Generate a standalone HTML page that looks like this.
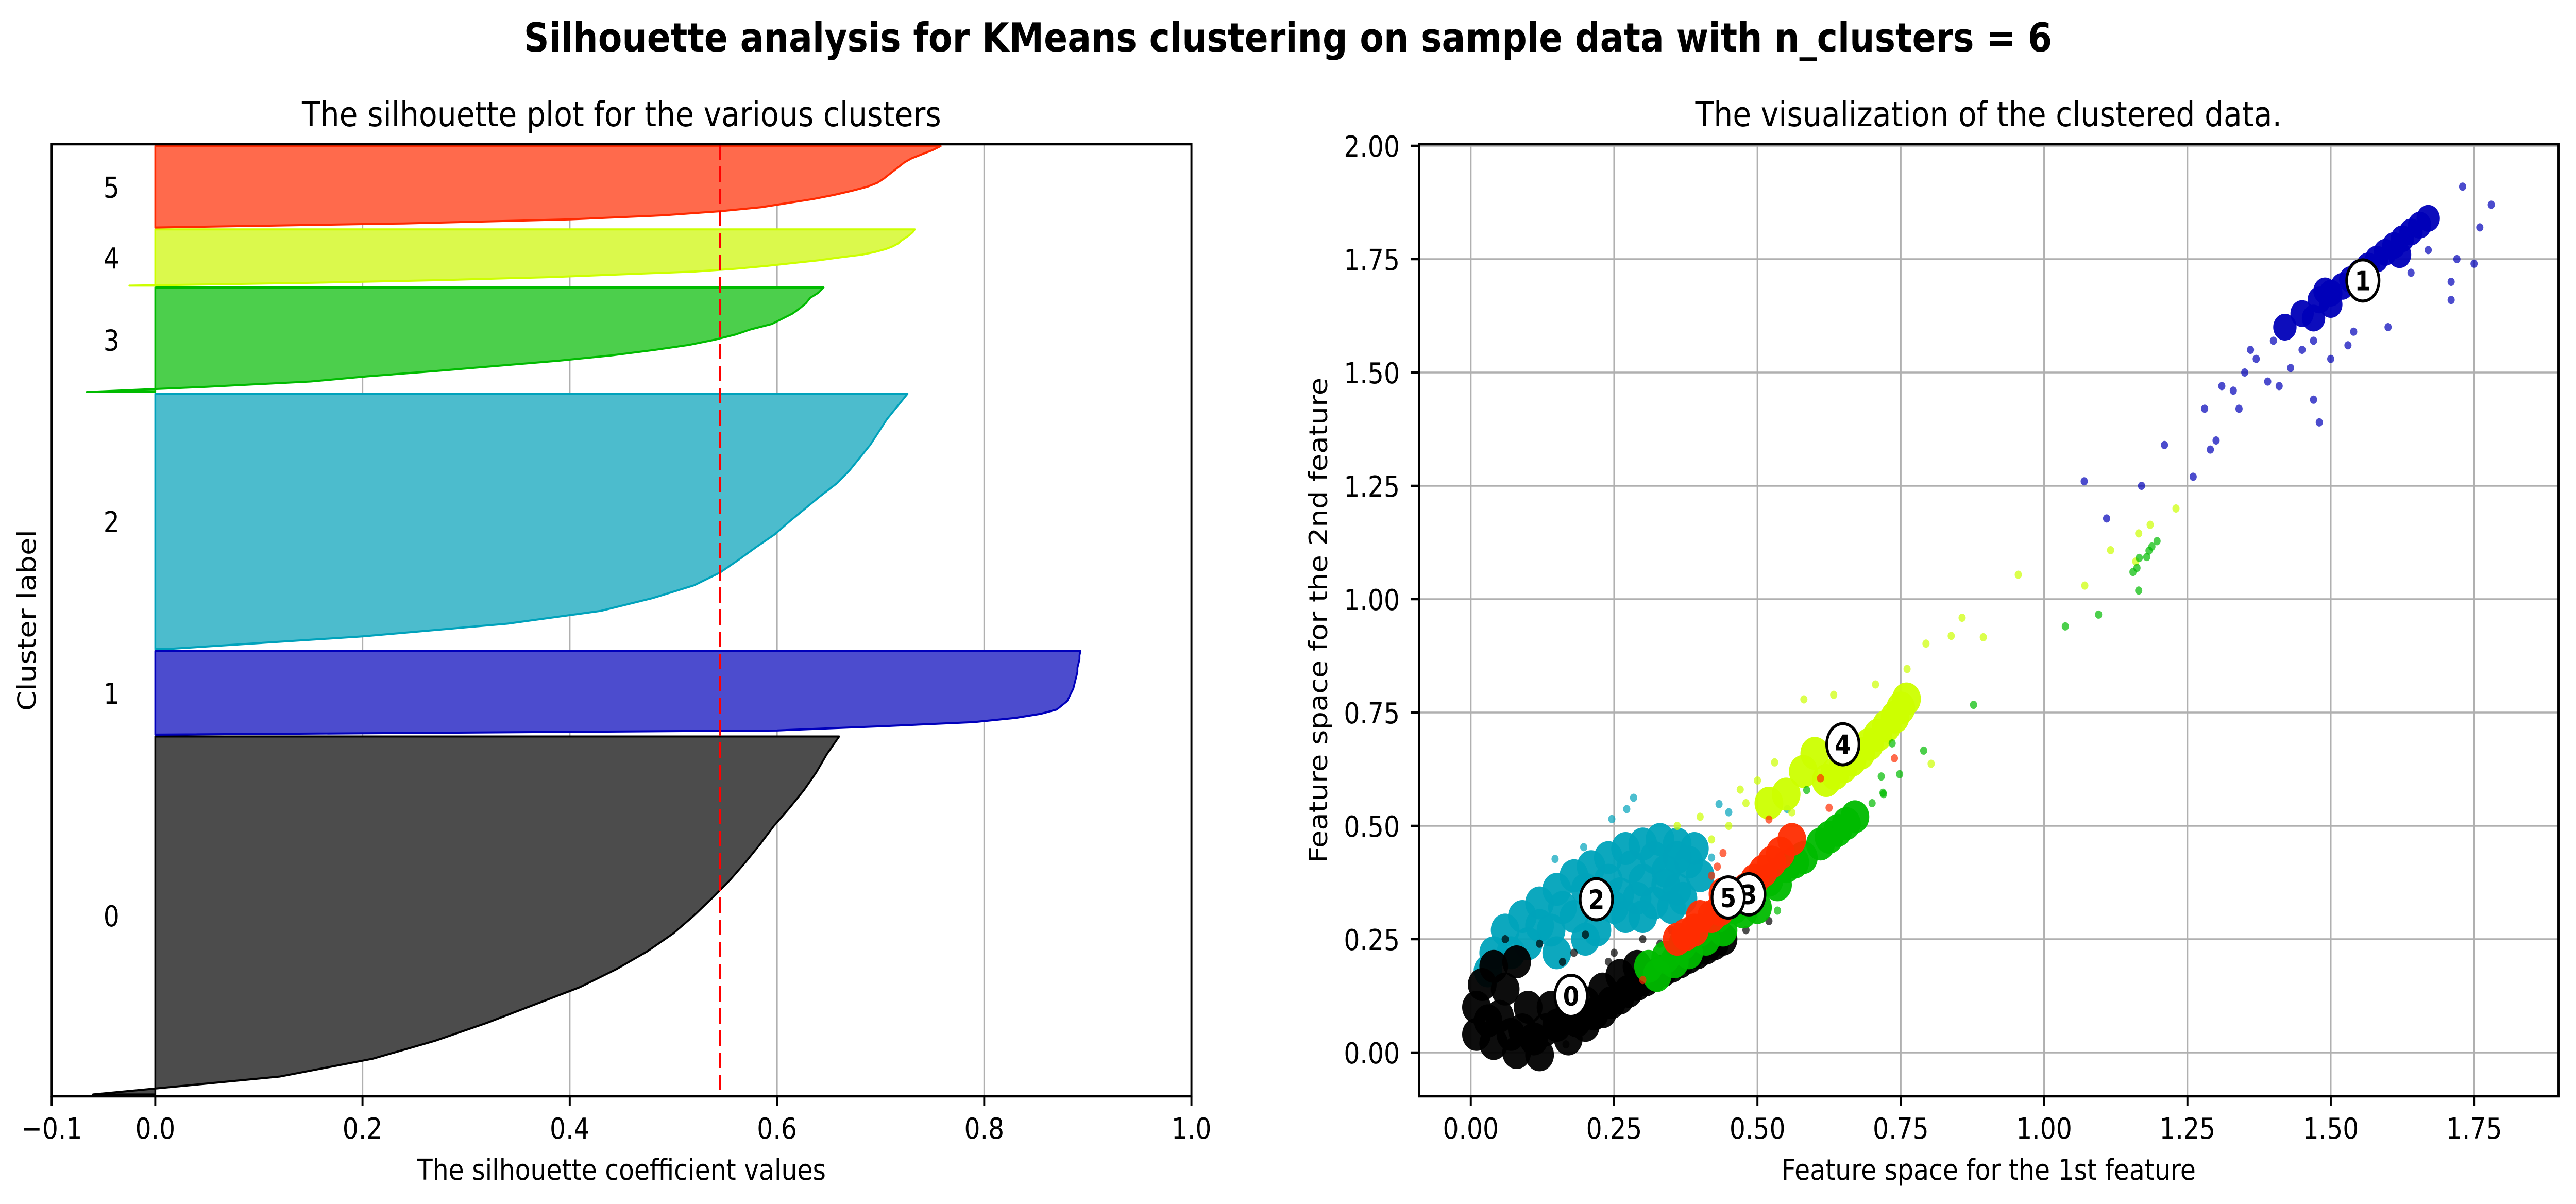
<!DOCTYPE html>
<html><head><meta charset="utf-8"><style>
html,body{margin:0;padding:0;background:#fff;width:100%;height:100%;overflow:hidden;}
svg{display:block;width:100vw;height:100vh;font-family:"DejaVu Sans","Liberation Sans",sans-serif;}
</style></head><body>
<svg id="fig" xmlns="http://www.w3.org/2000/svg" viewBox="0 0 5736 2337" preserveAspectRatio="none">
<rect x="0" y="0" width="5736" height="2337" fill="#fff"/>
<text x="2868" y="100" text-anchor="middle" font-size="78" font-weight="bold">Silhouette analysis for KMeans clustering on sample data with n_clusters = 6</text>
<text x="1384" y="245" text-anchor="middle" font-size="67">The silhouette plot for the various clusters</text>
<text x="4428" y="245" text-anchor="middle" font-size="67">The visualization of the clustered data.</text>
<text x="1384" y="2290" text-anchor="middle" font-size="56">The silhouette coefficient values</text>
<text x="4428" y="2290" text-anchor="middle" font-size="56">Feature space for the 1st feature</text>
<text x="80" y="1204" text-anchor="middle" font-size="56" transform="rotate(-90 80 1204)">Cluster label</text>
<text x="2955" y="1204" text-anchor="middle" font-size="56" transform="rotate(-90 2955 1204)">Feature space for the 2nd feature</text>
<g id="left"></g>
<g id="right"></g>
</svg>
<script>
// ---------- Silhouette data ----------
const clusterIds = [0,1,2,3,4,5];
const clusterSizes = [1935,452,1380,565,304,440];
const sil0 = [-0.06,0.12,0.21,0.27,0.32,0.365,0.41,0.445,0.475,0.5,0.52,0.538,0.555,0.57,0.584,0.597,0.612,0.626,0.638,0.648,0.66];
const sil1 = [0.0,0.6,0.7,0.79,0.83,0.855,0.87,0.875,0.88,0.882,0.884,0.886,0.887,0.888,0.889,0.89,0.89,0.891,0.892,0.892,0.893];
const sil2 = [0.01,0.2,0.34,0.43,0.48,0.52,0.545,0.563,0.58,0.598,0.612,0.627,0.642,0.658,0.67,0.68,0.69,0.698,0.706,0.716,0.726];
const sil3 = [-0.066,0.05,0.15,0.205,0.27,0.33,0.39,0.44,0.48,0.515,0.54,0.56,0.575,0.595,0.605,0.615,0.622,0.628,0.632,0.64,0.645];
const sil4 = [-0.025,0.15,0.28,0.38,0.45,0.52,0.56,0.59,0.615,0.64,0.66,0.682,0.695,0.705,0.712,0.717,0.72,0.724,0.728,0.731,0.733];
const sil5 = [0.0,0.24,0.4,0.49,0.545,0.585,0.61,0.635,0.655,0.672,0.687,0.697,0.703,0.708,0.713,0.718,0.723,0.73,0.74,0.75,0.758];
const silAverage = 0.545;
const leftXTicks = [-0.1,0.0,0.2,0.4,0.6,0.8,1.0];
const leftXTickLabels = ["\u22120.1","0.0","0.2","0.4","0.6","0.8","1.0"];
const leftGridTicks = [0.0,0.2,0.4,0.6,0.8];

// ---------- Scatter data ----------
const rightXTicks = [0,0.25,0.5,0.75,1.0,1.25,1.5,1.75];
const rightXTickLabels = ["0.00","0.25","0.50","0.75","1.00","1.25","1.50","1.75"];
const rightYTicks = [0,0.25,0.5,0.75,1.0,1.25,1.5,1.75,2.0];
const rightYTickLabels = ["0.00","0.25","0.50","0.75","1.00","1.25","1.50","1.75","2.00"];
const cluster0Core = [[0.01,0.04],[0.01,0.10],[0.02,0.15],[0.04,0.02],[0.05,0.08],[0.06,0.14],[0.08,0.0],[0.09,0.05],[0.10,0.10],[0.12,-0.005],[0.13,0.05],[0.14,0.10],[0.17,0.03],[0.17,0.08],[0.20,0.06],[0.20,0.11],[0.23,0.09],[0.23,0.14],[0.26,0.12],[0.26,0.17],[0.29,0.15],[0.29,0.19],[0.32,0.17],[0.35,0.19],[0.38,0.21],[0.41,0.23],[0.44,0.25],[0.04,0.19],[0.08,0.2],[0.03,0.07],[0.07,0.04],[0.11,0.03],[0.15,0.06],[0.185,0.07],[0.215,0.085],[0.245,0.11],[0.275,0.135],[0.305,0.16],[0.335,0.18],[0.365,0.2],[0.395,0.22],[0.425,0.24]];
const cluster0Sparse = [[0.166,0.018],[0.52,0.29],[0.48,0.27],[0.16,0.2],[0.12,0.24],[0.2,0.26],[0.3,0.25],[0.35,0.27],[0.42,0.31],[0.06,0.25],[0.25,0.22],[0.18,0.22],[0.24,0.2],[0.33,0.24]];
const cluster1Core = [[1.45,1.63],[1.48,1.66],[1.52,1.69],[1.55,1.72],[1.58,1.75],[1.61,1.78],[1.64,1.81],[1.67,1.84],[1.42,1.60],[1.50,1.675],[1.535,1.705],[1.565,1.735],[1.595,1.765],[1.625,1.795],[1.655,1.825],[1.47,1.62],[1.50,1.65],[1.56,1.70],[1.62,1.76],[1.49,1.68]];
const cluster1Sparse = [[1.40,1.57],[1.37,1.53],[1.35,1.50],[1.31,1.47],[1.33,1.46],[1.39,1.48],[1.41,1.47],[1.43,1.51],[1.26,1.27],[1.30,1.35],[1.21,1.34],[1.29,1.33],[1.17,1.25],[1.07,1.26],[1.109,1.178],[1.48,1.39],[1.73,1.91],[1.78,1.87],[1.76,1.82],[1.72,1.75],[1.75,1.74],[1.71,1.70],[1.71,1.66],[1.60,1.60],[1.54,1.59],[1.47,1.44],[1.47,1.57],[1.53,1.56],[1.50,1.53],[1.28,1.42],[1.45,1.55],[1.64,1.72],[1.67,1.77],[1.36,1.55],[1.34,1.42]];
const cluster2Core = [[0.04,0.22],[0.03,0.18],[0.06,0.27],[0.09,0.30],[0.12,0.33],[0.15,0.36],[0.18,0.39],[0.21,0.41],[0.24,0.43],[0.27,0.45],[0.30,0.46],[0.33,0.47],[0.36,0.46],[0.39,0.45],[0.10,0.24],[0.14,0.27],[0.18,0.30],[0.22,0.33],[0.26,0.35],[0.30,0.38],[0.34,0.40],[0.38,0.42],[0.22,0.27],[0.27,0.30],[0.32,0.33],[0.36,0.36],[0.40,0.39],[0.07,0.22],[0.12,0.28],[0.16,0.32],[0.20,0.36],[0.24,0.38],[0.28,0.41],[0.32,0.43],[0.36,0.43],[0.25,0.32],[0.29,0.34],[0.34,0.37],[0.15,0.22],[0.20,0.25],[0.30,0.30],[0.35,0.32],[0.37,0.34]];
const cluster2Sparse = [[0.284,0.562],[0.272,0.537],[0.246,0.515],[0.197,0.453],[0.147,0.427],[0.433,0.548],[0.552,0.537],[0.45,0.53],[0.42,0.43]];
const cluster3Core = [[0.31,0.19],[0.34,0.21],[0.37,0.24],[0.40,0.27],[0.43,0.30],[0.46,0.32],[0.49,0.35],[0.52,0.38],[0.55,0.41],[0.58,0.43],[0.61,0.46],[0.64,0.49],[0.67,0.52],[0.38,0.22],[0.44,0.27],[0.50,0.32],[0.325,0.17],[0.355,0.2],[0.41,0.25],[0.475,0.31],[0.535,0.37],[0.565,0.42],[0.625,0.475],[0.655,0.505]];
const cluster3Sparse = [[0.70,0.55],[0.72,0.57],[0.877,0.767],[0.79,0.666],[0.735,0.682],[0.748,0.614],[0.716,0.609],[0.719,0.573],[0.586,0.579],[0.535,0.313],[1.037,0.94],[1.095,0.966],[1.165,1.019],[1.155,1.06],[1.162,1.069],[1.166,1.091],[1.179,1.093],[1.183,1.107],[1.188,1.116],[1.197,1.128]];
const cluster4Core = [[0.62,0.60],[0.65,0.63],[0.68,0.66],[0.71,0.70],[0.74,0.74],[0.76,0.78],[0.58,0.62],[0.55,0.57],[0.60,0.66],[0.52,0.55],[0.635,0.615],[0.665,0.645],[0.695,0.68],[0.725,0.72],[0.75,0.76]];
const cluster4Sparse = [[0.857,0.959],[0.838,0.919],[0.894,0.916],[0.794,0.902],[0.803,0.637],[0.761,0.846],[0.706,0.812],[0.581,0.779],[0.633,0.789],[0.955,1.054],[1.071,1.03],[1.116,1.108],[1.165,1.145],[1.185,1.164],[1.23,1.20],[1.16,1.083],[0.50,0.60],[0.45,0.50],[0.42,0.47],[0.48,0.55],[0.40,0.52],[0.36,0.50],[0.56,0.53],[0.53,0.64],[0.47,0.58]];
const cluster5Core = [[0.36,0.25],[0.39,0.27],[0.42,0.30],[0.45,0.33],[0.48,0.36],[0.51,0.40],[0.54,0.44],[0.56,0.47],[0.40,0.30],[0.44,0.35],[0.375,0.26],[0.435,0.315],[0.495,0.38],[0.525,0.42]];
const cluster5Sparse = [[0.739,0.649],[0.61,0.605],[0.625,0.54],[0.52,0.514],[0.44,0.44],[0.43,0.41],[0.42,0.39],[0.3,0.16]];
const centroidX = [0.175,1.556,0.219,0.485,0.649,0.449];
const centroidY = [0.125,1.703,0.338,0.349,0.68,0.342];

// ---------- styles ----------
const silFill = ["#4c4c4c","#4c4cce","#4cbccd","#4ccf4c","#dbf94c","#ff6a4c"];
const silEdge = ["#000000","#0000bb","#00a2bb","#00bb00","#ccff00","#ff2a00"];
const dotColor = ["#000000","#0000b8","#00a3bb","#00bb00","#ccff00","#ff2c00"];

const NS = "http://www.w3.org/2000/svg";
function mk(tag, attrs, parent){ const e=document.createElementNS(NS,tag); for(const k in attrs) e.setAttribute(k,attrs[k]); parent.appendChild(e); return e; }

// ---------- Left axes ----------
const L = {x0:115, x1:2653, y0:280, y1:2128};
const yTop = clusterSizes.reduce((a,b)=>a+b,0) + 70;
function lx(v){ return L.x0 + (v+0.1)/1.1*(L.x1-L.x0); }
function ly(u){ return L.y1 - u/yTop*(L.y1-L.y0); }
const left = document.getElementById('left');
for (const t of leftGridTicks){
  const g = mk('line',{x1:lx(t),x2:lx(t),y1:L.y0,y2:L.y1,stroke:'#b0b0b0','stroke-width':3.5},left);
  
  
}
const sils = [sil0,sil1,sil2,sil3,sil4,sil5];
let yLower = 10;
clusterIds.forEach((ci,i)=>{
  const vals = sils[i]; const n = vals.length; const size = clusterSizes[i];
  let pts = [];
  vals.forEach((v,k)=>{ pts.push(lx(v)+','+ly(yLower + size*k/(n-1))); });
  pts.push(lx(0)+','+ly(yLower+size));
  pts.push(lx(0)+','+ly(yLower));
  const p = mk('polygon',{points:pts.join(' '),fill:silFill[i],stroke:silEdge[i],'stroke-width':4,'stroke-linejoin':'round'},left);
  
  
  const t = mk('text',{x:lx(-0.05),y:ly(yLower+size*0.5)+21,'font-size':56},left);
  t.textContent = String(ci);
  
  
  yLower += size + 10;
});
const avg = mk('line',{x1:lx(silAverage),x2:lx(silAverage),y1:L.y0,y2:L.y1,stroke:'#ff0000','stroke-width':5,'stroke-dasharray':'30,13'},left);


const lframe = mk('rect',{x:L.x0,y:L.y0,width:L.x1-L.x0,height:L.y1-L.y0,fill:'none',stroke:'#000','stroke-width':4.5},left);


leftXTicks.forEach((t,i)=>{
  const tk = mk('line',{x1:lx(t),x2:lx(t),y1:L.y1,y2:L.y1+19,stroke:'#000','stroke-width':4.5},left);
  
  
  const tl = mk('text',{x:lx(t),y:2210,'text-anchor':'middle','font-size':56},left);
  tl.textContent = leftXTickLabels[i];
  
  
});

// ---------- Right axes ----------
const R = {x0:3160, x1:5697, y0:280, y1:2128};
function rx(v){ return 3275 + v*1276.6; }
function ry(v){ return 2043 - v*880; }
const right = document.getElementById('right');
for (const t of rightXTicks){
  const g = mk('line',{x1:rx(t),x2:rx(t),y1:R.y0,y2:R.y1,stroke:'#b0b0b0','stroke-width':3.5},right);
  
  
}
for (const t of rightYTicks){
  const g = mk('line',{x1:R.x0,x2:R.x1,y1:ry(t),y2:ry(t),stroke:'#b0b0b0','stroke-width':3.5},right);
  
  
}
const cores = [cluster0Core,cluster1Core,cluster2Core,cluster3Core,cluster4Core,cluster5Core];
const sparses = [cluster0Sparse,cluster1Sparse,cluster2Sparse,cluster3Sparse,cluster4Sparse,cluster5Sparse];
const drawOrder = [2,0,4,3,5,1];
drawOrder.forEach(i=>{
  const g = mk('g',{fill:dotColor[i]},right);
  
  
  const coreR = (i===1)?26:32;
  cores[i].forEach(p=>{
    const c = mk('circle',{cx:rx(p[0]),cy:ry(p[1]),r:coreR,'fill-opacity':0.95},g);
    
    
  });
  sparses[i].forEach(p=>{
    const c = mk('circle',{cx:rx(p[0]),cy:ry(p[1]),r:8,'fill-opacity':0.7},g);
    
    
  });
});
clusterIds.forEach((ci,i)=>{
  const c = mk('ellipse',{cx:rx(centroidX[i]),cy:ry(centroidY[i]),rx:36,ry:40,fill:'#fff',stroke:'#000','stroke-width':6},right);
  
  
  const t = mk('text',{x:rx(centroidX[i]),y:ry(centroidY[i])+19,'text-anchor':'middle','font-size':52,'font-weight':'bold'},right);
  t.textContent = String(ci);
  
  
});
const rframe = mk('rect',{x:R.x0,y:R.y0,width:R.x1-R.x0,height:R.y1-R.y0,fill:'none',stroke:'#000','stroke-width':4.5},right);


rightXTicks.forEach((t,i)=>{
  const tk = mk('line',{x1:rx(t),x2:rx(t),y1:R.y1,y2:R.y1+19,stroke:'#000','stroke-width':4.5},right);
  
  
  const tl = mk('text',{x:rx(t),y:2210,'text-anchor':'middle','font-size':56},right);
  tl.textContent = rightXTickLabels[i];
  
  
});
rightYTicks.forEach((t,i)=>{
  const tk = mk('line',{x1:R.x0-19,x2:R.x0,y1:ry(t),y2:ry(t),stroke:'#000','stroke-width':4.5},right);
  
  
  const tl = mk('text',{x:3117,y:ry(t)+21,'text-anchor':'end','font-size':56},right);
  tl.textContent = rightYTickLabels[i];
  
  
});
</script>
</body></html>
